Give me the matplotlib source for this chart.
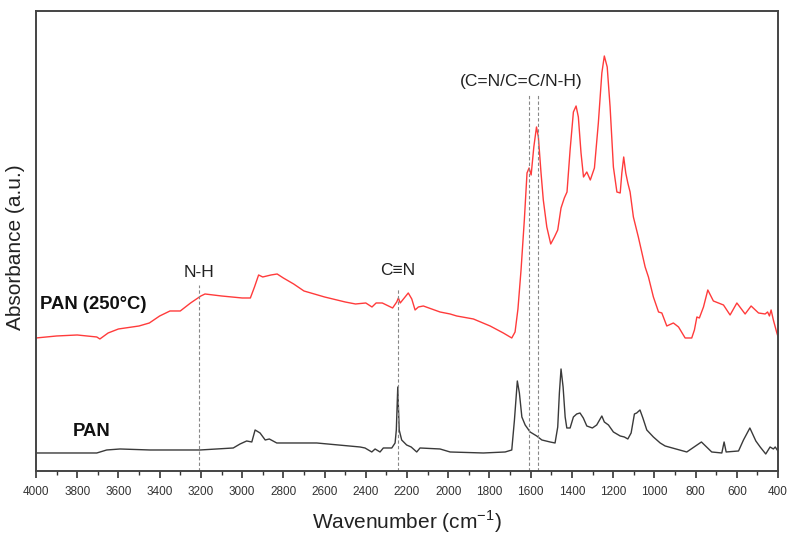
import numpy as np
import matplotlib.pyplot as plt
from matplotlib.ticker import MultipleLocator

plt.rcParams['font.family'] = ['Liberation Sans', 'DejaVu Sans']
plt.rcParams['mathtext.fontset'] = 'custom'
plt.rcParams['mathtext.rm'] = 'Liberation Sans'

# PAN after stabilisation at 250 C
wn_250 = [4000, 3900, 3800, 3705, 3690, 3650, 3600, 3500, 3450, 3400, 3350, 3300,
          3250, 3200, 3180, 3100, 3000, 2960, 2940, 2920, 2900, 2860, 2830, 2800,
          2750, 2700, 2600, 2500, 2450, 2400, 2370, 2350, 2320, 2300, 2270, 2250,
          2242, 2233, 2194, 2177, 2161, 2145, 2121, 2040, 1991, 1959, 1878, 1797,
          1733, 1692, 1676, 1662, 1647, 1631, 1618, 1608, 1598, 1585, 1572, 1563,
          1550, 1539, 1522, 1503, 1485, 1469, 1453, 1437, 1424, 1409, 1393, 1380,
          1369, 1356, 1344, 1328, 1311, 1291, 1272, 1255, 1243, 1229, 1215, 1199,
          1182, 1166, 1158, 1149, 1139, 1129, 1118, 1102, 1078, 1045, 1029, 1005,
          980, 964, 940, 908, 883, 851, 819, 806, 794, 782, 762, 741, 714, 665,
          633, 600, 560, 531, 495, 463, 451, 442, 434, 423, 406, 400]
abs_250 = [1.33, 1.35, 1.36, 1.34, 1.32, 1.38, 1.42, 1.45, 1.48, 1.55, 1.60, 1.60,
           1.68, 1.75, 1.77, 1.75, 1.73, 1.73, 1.84, 1.96, 1.94, 1.96, 1.97, 1.93,
           1.87, 1.80, 1.74, 1.69, 1.67, 1.68, 1.64, 1.68, 1.68, 1.66, 1.63, 1.69,
           1.73, 1.68, 1.78, 1.72, 1.61, 1.64, 1.65, 1.59, 1.57, 1.55, 1.52, 1.45,
           1.38, 1.33, 1.39, 1.62, 2.01, 2.51, 2.98, 3.03, 2.96, 3.24, 3.44, 3.34,
           2.98, 2.71, 2.44, 2.27, 2.34, 2.41, 2.63, 2.73, 2.79, 3.21, 3.59, 3.65,
           3.54, 3.18, 2.94, 2.99, 2.91, 3.03, 3.48, 3.98, 4.15, 4.04, 3.64, 3.04,
           2.79, 2.78, 2.98, 3.14, 2.98, 2.88, 2.79, 2.54, 2.34, 2.04, 1.94, 1.74,
           1.59, 1.58, 1.45, 1.48, 1.44, 1.33, 1.33, 1.41, 1.54, 1.53, 1.64, 1.81,
           1.70, 1.66, 1.56, 1.68, 1.57, 1.65, 1.58, 1.57, 1.59, 1.55, 1.61, 1.51,
           1.38, 1.34]

# untreated PAN
wn_pan = [4000, 3705, 3657, 3592, 3447, 3204, 3043, 3010, 2978, 2953, 2937, 2913,
          2888, 2868, 2832, 2719, 2638, 2428, 2404, 2371, 2355, 2331, 2315, 2274,
          2258, 2252, 2245, 2238, 2226, 2202, 2180, 2153, 2137, 2040, 1991, 1830,
          1724, 1692, 1679, 1665, 1655, 1643, 1627, 1603, 1571, 1546, 1506, 1482,
          1469, 1461, 1453, 1443, 1433, 1425, 1409, 1393, 1377, 1361, 1345, 1328,
          1301, 1280, 1255, 1243, 1223, 1199, 1166, 1146, 1129, 1113, 1097, 1086,
          1070, 1056, 1037, 1005, 972, 948, 843, 772, 722, 673, 662, 652, 592, 568,
          537, 508, 487, 460, 439, 423, 414, 401]
abs_pan = [0.18, 0.18, 0.21, 0.22, 0.21, 0.21, 0.23, 0.27, 0.30, 0.29, 0.41, 0.38,
           0.31, 0.32, 0.28, 0.28, 0.28, 0.24, 0.23, 0.19, 0.22, 0.19, 0.23, 0.23,
           0.28, 0.41, 0.84, 0.41, 0.31, 0.26, 0.24, 0.19, 0.23, 0.22, 0.19, 0.18,
           0.19, 0.21, 0.51, 0.90, 0.78, 0.54, 0.46, 0.39, 0.35, 0.31, 0.29, 0.28,
           0.44, 0.78, 1.02, 0.84, 0.54, 0.43, 0.43, 0.54, 0.57, 0.58, 0.53, 0.45,
           0.43, 0.46, 0.55, 0.49, 0.46, 0.39, 0.35, 0.34, 0.32, 0.38, 0.57, 0.58,
           0.61, 0.53, 0.41, 0.34, 0.28, 0.25, 0.19, 0.29, 0.19, 0.18, 0.29, 0.19,
           0.20, 0.31, 0.43, 0.30, 0.24, 0.17, 0.24, 0.22, 0.24, 0.20]

# band markers: wavenumber, top of dashed line
band_wn = [3210, 2243, 1610, 1566]
band_top = [1.86, 1.83, 3.76, 3.76]

fig = plt.figure(figsize=(7.87, 5.36), dpi=100)
ax = fig.add_axes([0.0457, 0.1213, 0.943, 0.8582])

ax.plot(wn_250, abs_250, color='#ff3b3b', lw=1.0)
ax.plot(wn_pan, abs_pan, color='#3a3a3a', lw=1.0)

for w, top in zip(band_wn, band_top):
    ax.plot([w, w], [0, top], color='#888888', lw=0.8, ls=(0, (3, 2)))

ax.text(3210, 1.91, 'N-H', ha='center', va='bottom', fontsize=12.5, color='#222222')
ax.text(2243, 1.93, 'C\u2261N', ha='center', va='bottom', fontsize=12.5, color='#222222')
ax.text(1647, 3.82, '(C=N/C=C/N-H)', ha='center', va='bottom', fontsize=12.5,
        color='#222222')
ax.text(3980, 1.66, 'PAN (250°C)', ha='left', va='center', fontsize=13.3,
        fontweight='bold', color='#111111')
ax.text(3820, 0.39, 'PAN', ha='left', va='center', fontsize=13.3,
        fontweight='bold', color='#111111')

ax.set_xlim(4000, 400)
ax.set_ylim(0, 4.6)
ax.xaxis.set_major_locator(MultipleLocator(200))
ax.xaxis.set_minor_locator(MultipleLocator(100))
ax.tick_params(axis='x', which='major', direction='out', length=5, width=1.2,
               labelsize=8.5, colors='#333333', pad=6)
ax.tick_params(axis='x', which='minor', direction='out', length=3, width=1.0,
               colors='#333333')
ax.set_yticks([])
for s in ax.spines.values():
    s.set_linewidth(1.4)
    s.set_color('#444444')

ax.set_xlabel('Wavenumber (cm$^{\\mathregular{-1}}$)', fontsize=15, color='#222222',
              labelpad=7)
ax.set_ylabel('Absorbance (a.u.)', fontsize=15, color='#222222')
ax.yaxis.set_label_coords(-0.015, 0.487)

fig.savefig('out.png', dpi=100)
